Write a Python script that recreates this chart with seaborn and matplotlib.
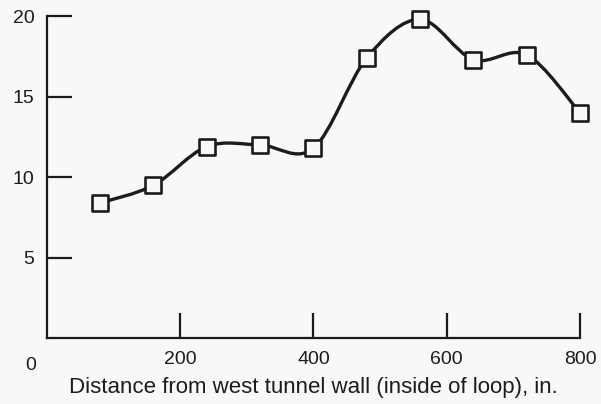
import numpy as np
import pandas as pd
import seaborn as sns
import matplotlib
matplotlib.use("Agg")
import matplotlib.pyplot as plt
from matplotlib.path import Path
from matplotlib.patches import PathPatch

# Measurements along the traverse
distance_in = [80, 160, 240, 320, 400, 480, 560, 640, 720, 800]
value = [8.4, 9.5, 11.9, 12.0, 11.8, 17.4, 19.8, 17.3, 17.6, 14.0]
x_ticks = [200, 400, 600, 800]
y_ticks = [5, 10, 15, 20]

df = pd.DataFrame({"distance": distance_in, "value": value})

sns.set_theme(style="white")
plt.rcParams["font.family"] = ["Liberation Sans", "DejaVu Sans"]

bg = "#f8f8f8"
ink = "#1c1c1c"

fig = plt.figure(figsize=(6.01, 4.04), dpi=100, facecolor=bg)
ax = fig.add_axes([0.078, 0.163, 0.887, 0.797], facecolor=bg)

# Smooth connecting curve (Catmull-Rom rendered as cubic Bezier segments)
xs = np.asarray(df["distance"], float)
ys = np.asarray(df["value"], float)
verts = [(xs[0], ys[0])]
codes = [Path.MOVETO]
n = len(xs)
for i in range(n - 1):
    p0 = np.array([xs[max(i - 1, 0)], ys[max(i - 1, 0)]])
    p1 = np.array([xs[i], ys[i]])
    p2 = np.array([xs[i + 1], ys[i + 1]])
    p3 = np.array([xs[min(i + 2, n - 1)], ys[min(i + 2, n - 1)]])
    c1 = p1 + (p2 - p0) / 6.0
    c2 = p2 - (p3 - p1) / 6.0
    verts += [tuple(c1), tuple(c2), tuple(p2)]
    codes += [Path.CURVE4] * 3
curve = PathPatch(Path(verts, codes), facecolor="none", edgecolor=ink,
                  lw=2.4, capstyle="round", joinstyle="round", zorder=2)
ax.add_patch(curve)
curve.set_clip_on(False)

sns.scatterplot(data=df, x="distance", y="value", marker="s", s=125,
                facecolor=bg, edgecolor=ink, linewidth=1.9, zorder=3, ax=ax)
for coll in ax.collections:
    coll.set_clip_on(False)

ax.set_xlim(0, 800)
ax.set_ylim(0, 20)
ax.set_xticks(x_ticks)
ax.set_yticks(y_ticks)
ax.set_xticklabels([str(t) for t in x_ticks])
ax.set_yticklabels([str(t) for t in y_ticks])

for side in ["top", "right"]:
    ax.spines[side].set_visible(False)
for side in ["left", "bottom"]:
    ax.spines[side].set_color(ink)
    ax.spines[side].set_linewidth(1.6)

ax.tick_params(axis="both", direction="in", length=18, width=1.6, color=ink,
               labelsize=14, labelcolor=ink)
ax.tick_params(axis="x", bottom=True, pad=9)
ax.tick_params(axis="y", left=True, pad=9)

# Shared origin label at the corner
ax.text(-25, -1.7, "0", ha="center", va="center", fontsize=14, color=ink,
        clip_on=False)

ax.set_xlabel("Distance from west tunnel wall (inside of loop), in.",
              fontsize=16, color=ink, labelpad=7)
ax.set_ylabel("")

fig.savefig("out.png", dpi=100, facecolor=bg)
